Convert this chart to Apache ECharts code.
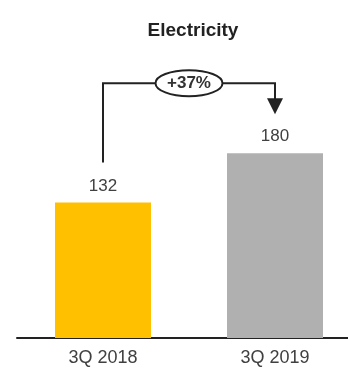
<!DOCTYPE html>
<html>
<head>
<meta charset="utf-8">
<script src="https://cdn.jsdelivr.net/npm/echarts@6/dist/echarts.min.js"></script>
<style>html,body{margin:0;padding:0;background:#fff;overflow:hidden;width:348px;height:374px}#c{width:361px;height:374px}</style>
</head>
<body>
<div id="c"></div>
<script>
var titleText = "Electricity";
var categories = ["3Q 2018", "3Q 2019"];
var values = [132, 180];
var barColors = ["#FFC000", "#B0B0B0"];
var changeLabel = "+37%";

var chart = echarts.init(document.getElementById('c'), null, {renderer: 'canvas'});
var font = '"Liberation Sans", Arial, sans-serif';
chart.setOption({
  animation: false,
  title: {
    text: titleText, left: 188, top: 16, textAlign: 'center',
    textStyle: {fontFamily: font, fontSize: 19, fontWeight: 'bold', color: '#222'}
  },
  grid: {left: 17, right: 0, top: 30, bottom: 36},
  xAxis: {
    type: 'category', data: categories,
    axisLine: {lineStyle: {color: '#222', width: 2}},
    axisTick: {show: false},
    axisLabel: {margin: 11, fontFamily: font, fontSize: 18, color: '#404040'}
  },
  yAxis: {type: 'value', min: 0, max: 300, show: false, splitLine: {show: false}},
  series: [{
    type: 'bar', barWidth: 96,
    data: values.map(function (v, i) { return {value: v, itemStyle: {color: barColors[i]}}; }),
    label: {show: true, position: 'top', distance: 8, fontFamily: font, fontSize: 17, color: '#404040'}
  }]
});

var p0 = chart.convertToPixel({gridIndex: 0}, [0, values[0]]);
var p1 = chart.convertToPixel({gridIndex: 0}, [1, values[1]]);
var topY = Math.min(p0[1], p1[1]) - 70;
var startY = p0[1] - 40;
var tipY = p1[1] - 39;
var midX = (p0[0] + p1[0]) / 2;
var lineStyle = {stroke: '#222', lineWidth: 2, fill: null};
chart.setOption({
  graphic: [
    {type: 'polyline', shape: {points: [[p0[0], startY], [p0[0], topY], [p1[0], topY], [p1[0], tipY - 15]]}, style: lineStyle, z: 10},
    {type: 'polygon', shape: {points: [[p1[0] - 8, tipY - 16], [p1[0] + 8, tipY - 16], [p1[0], tipY]]}, style: {fill: '#222'}, z: 10},
    {type: 'ellipse', shape: {cx: midX, cy: topY, rx: 33.5, ry: 13}, style: {fill: '#fff', stroke: '#222', lineWidth: 2}, z: 11},
    {type: 'text', x: midX, y: topY, style: {text: changeLabel, align: 'center', verticalAlign: 'middle', font: 'bold 17px ' + font, fill: '#333'}, z: 12}
  ]
});
</script>
</body>
</html>
